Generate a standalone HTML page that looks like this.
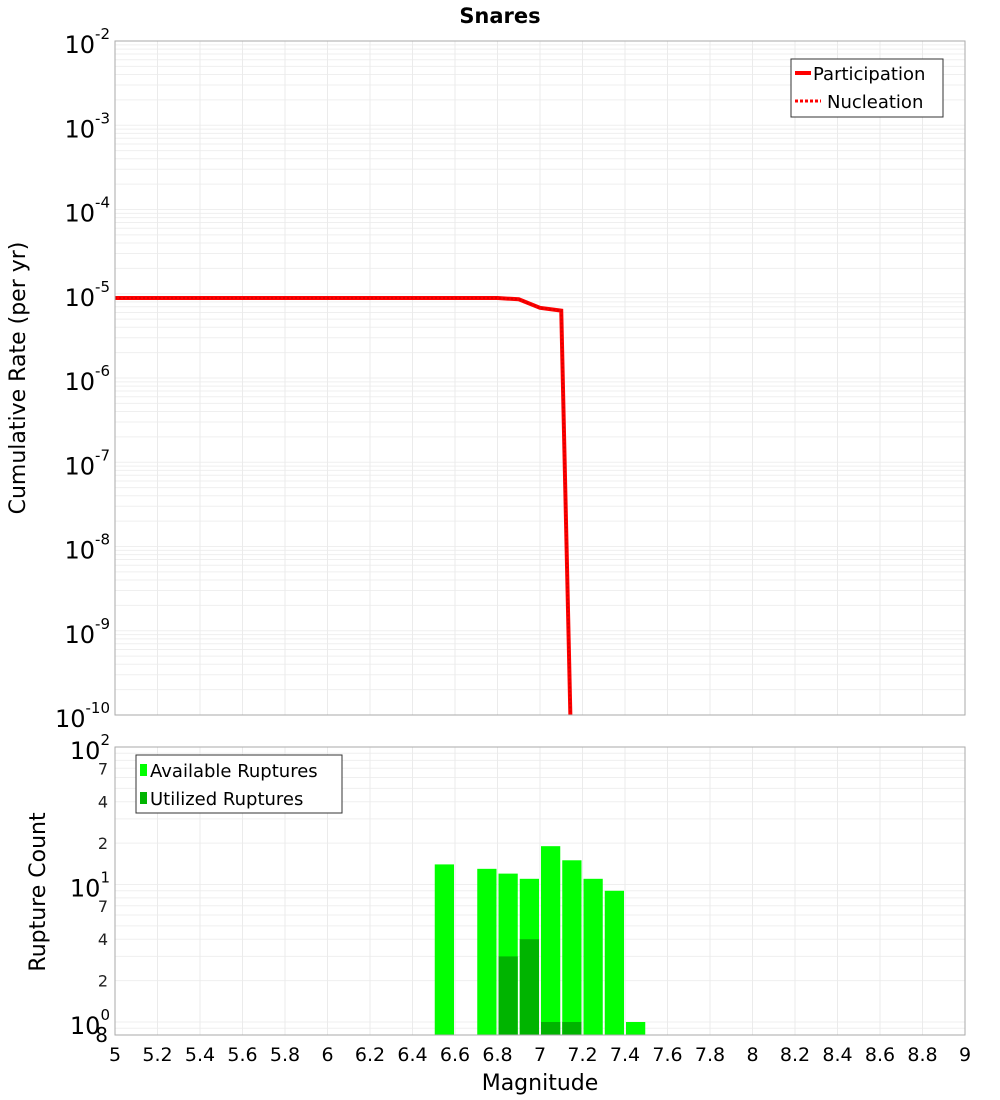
<!DOCTYPE html>
<html><head><meta charset="utf-8"><style>
html,body{margin:0;background:#fff;overflow:hidden;width:1000px;height:1100px}
svg{display:block}
svg text{font-family:"DejaVu Sans","Liberation Sans",sans-serif}
</style></head><body>
<svg id="c" width="1000" height="1100" xmlns="http://www.w3.org/2000/svg"></svg>
<script>
const rateMags=[5.0,5.1,5.2,5.3,5.4,5.5,5.6,5.7,5.8,5.9,6.0,6.1,6.2,6.3,6.4,6.5,6.6,6.7,6.8,6.9,7.0,7.1,7.2];
const participation=[8.9e-6,8.9e-6,8.9e-6,8.9e-6,8.9e-6,8.9e-6,8.9e-6,8.9e-6,8.9e-6,8.9e-6,8.9e-6,8.9e-6,8.9e-6,8.9e-6,8.9e-6,8.9e-6,8.9e-6,8.9e-6,8.9e-6,8.6e-6,6.8e-6,6.3e-6,4e-17];
const nucleation=[8.9e-6,8.9e-6,8.9e-6,8.9e-6,8.9e-6,8.9e-6,8.9e-6,8.9e-6,8.9e-6,8.9e-6,8.9e-6,8.9e-6,8.9e-6,8.9e-6,8.9e-6,8.9e-6,8.9e-6,8.9e-6,8.9e-6,8.6e-6,6.8e-6,6.3e-6,4e-17];
const barMags=[6.55,6.75,6.85,6.95,7.05,7.15,7.25,7.35,7.45];
const available=[14,13,12,11,19,15,11,9,1];
const utilized=[0,0,3,4,1,1,0,0,0];
const xTicks=[5,5.2,5.4,5.6,5.8,6,6.2,6.4,6.6,6.8,7,7.2,7.4,7.6,7.8,8,8.2,8.4,8.6,8.8,9];
const topDecades=[-2,-3,-4,-5,-6,-7,-8,-9,-10];

const S=document.getElementById('c'),NS='http://www.w3.org/2000/svg';
function el(t,a,p){const e=document.createElementNS(NS,t);for(const k in a)e.setAttribute(k,a[k]);(p||S).appendChild(e);return e;}
const X0=115,X1=965;
const xs=m=>X0+(m-5)/(9-5)*(X1-X0);
const T0=41,T1=715;
const yT=v=>T0+(-2-Math.log10(v))/8*(T1-T0);
const B0=747,B1=1035;
const yB=v=>B0+(2-Math.log10(v))*137.5;

let t=el('text',{x:500,y:23,'text-anchor':'middle','font-size':21,'font-weight':'bold'});t.textContent='Snares';


const gT=el('g',{});
for(let d=-10;d<-2;d++)for(let k=1;k<10;k++){const y=yT(k*Math.pow(10,d));el('line',{x1:X0,x2:X1,y1:y,y2:y,stroke:'#efefef'},gT);}
const gB=el('g',{});
[0.8,0.9,1,2,3,4,5,6,7,8,9,10,20,30,40,50,60,70,80,90].forEach(v=>{const y=yB(v);if(y<=B1)el('line',{x1:X0,x2:X1,y1:y,y2:y,stroke:'#efefef'},gB);});
xTicks.forEach(m=>{el('line',{x1:xs(m),x2:xs(m),y1:T0,y2:T1,stroke:'#ebebeb'},gT);el('line',{x1:xs(m),x2:xs(m),y1:B0,y2:B1,stroke:'#ebebeb'},gB);});

const clipT=el('clipPath',{id:'ct'});el('rect',{x:X0,y:T0,width:X1-X0,height:T1-T0},clipT);
const pts=a=>a.map((v,i)=>xs(rateMags[i])+','+yT(v)).join(' ');
let l=el('polyline',{points:pts(participation),fill:'none',stroke:'#f00','stroke-width':4,'clip-path':'url(#ct)'});

l=el('polyline',{points:pts(nucleation),fill:'none',stroke:'#d00','stroke-width':2,'stroke-dasharray':'2 2','clip-path':'url(#ct)'});


barMags.forEach((m,i)=>{
 const x=xs(m-0.05)+1,w=xs(m+0.05)-xs(m-0.05)-2;
 if(available[i]>0){const y=yB(available[i]);const r=el('rect',{x:x,y:y,width:w,height:B1-y,fill:'#00ff00'});
 }
 if(utilized[i]>0){const y=yB(utilized[i]);const r=el('rect',{x:x,y:y,width:w,height:B1-y,fill:'#00b400'});
 }
});

el('rect',{x:X0,y:T0,width:X1-X0,height:T1-T0,fill:'none',stroke:'#aaa'});
el('rect',{x:X0,y:B0,width:X1-X0,height:B1-B0,fill:'none',stroke:'#aaa'});

topDecades.forEach(d=>{const y=yT(Math.pow(10,d));
 const tx=el('text',{x:110,y:y+12,'text-anchor':'end','font-size':24});
 tx.innerHTML='10<tspan dy="-14" font-size="15">'+d+'</tspan>';
 });
[[100,'10','2'],[10,'10','1'],[1,'10','0']].forEach(a=>{const y=yB(a[0]);
 const tx=el('text',{x:110,y:y+12,'text-anchor':'end','font-size':24});
 tx.innerHTML=a[1]+'<tspan dy="-14" font-size="15">'+a[2]+'</tspan>';
 });
[[70,'7'],[40,'4'],[20,'2'],[7,'7'],[4,'4'],[2,'2']].forEach(a=>{const tx=el('text',{x:108,y:yB(a[0])+6,'text-anchor':'end','font-size':16,fill:'#222'});tx.textContent=a[1];
 });
t=el('text',{x:108,y:1042,'text-anchor':'end','font-size':20});t.textContent='8';
xTicks.forEach(m=>{const tx=el('text',{x:xs(m),y:1061,'text-anchor':'middle','font-size':19});tx.textContent=String(m);
 });
t=el('text',{x:540,y:1090,'text-anchor':'middle','font-size':22});t.textContent='Magnitude';

t=el('text',{x:0,y:0,'text-anchor':'middle','font-size':22,transform:'translate(25,378) rotate(-90)'});t.textContent='Cumulative Rate (per yr)';

t=el('text',{x:0,y:0,'text-anchor':'middle','font-size':22,transform:'translate(45,892) rotate(-90)'});t.textContent='Rupture Count';


let g=el('g',{});
el('rect',{x:791,y:59,width:152,height:58,fill:'#fff',stroke:'#333'},g);
el('line',{x1:795,x2:811,y1:73,y2:73,stroke:'#f00','stroke-width':4},g);
el('line',{x1:795,x2:821,y1:101,y2:101,stroke:'#f00','stroke-width':3,'stroke-dasharray':'3 2'},g);
t=el('text',{x:813,y:80,'font-size':18},g);t.textContent='Participation';
t=el('text',{x:827,y:108,'font-size':18},g);t.textContent='Nucleation';
g=el('g',{});
el('rect',{x:136,y:755,width:206,height:58,fill:'#fff',stroke:'#333'},g);
el('rect',{x:140,y:764,width:7,height:12,fill:'#00ff00'},g);
el('rect',{x:140,y:792,width:7,height:12,fill:'#00b400'},g);
t=el('text',{x:150,y:777,'font-size':18},g);t.textContent='Available Ruptures';
t=el('text',{x:150,y:805,'font-size':18},g);t.textContent='Utilized Ruptures';
</script>
</body></html>
